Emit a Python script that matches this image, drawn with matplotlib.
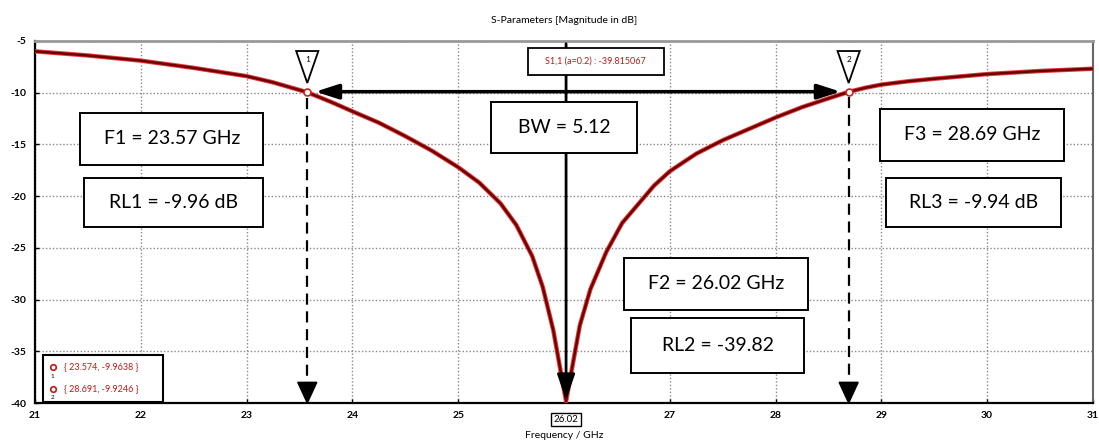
import numpy as np
import matplotlib.pyplot as plt
from matplotlib.patches import Rectangle, Polygon

plt.rcParams['font.family'] = ['Lato', 'DejaVu Sans']

# S11 magnitude (GHz, dB)
freq = [21.0, 21.5, 22.0, 22.5, 23.0, 23.25, 23.574, 23.8, 24.0, 24.25, 24.5, 24.75,
        25.0, 25.2, 25.4, 25.55, 25.7, 25.8, 25.9, 25.97, 26.02, 26.07, 26.15, 26.25,
        26.4, 26.55, 26.7, 26.85, 27.0, 27.25, 27.5, 27.75, 28.0, 28.25, 28.5, 28.691,
        28.85, 29.0, 29.25, 29.5, 30.0, 30.5, 31.0]
s11 = [-6.0, -6.4, -6.9, -7.6, -8.4, -9.0, -9.96, -10.9, -11.8, -12.9, -14.2, -15.6,
       -17.2, -18.7, -20.7, -22.8, -25.8, -28.8, -33.0, -37.0, -39.82, -37.0, -32.5, -29.0,
       -25.4, -22.6, -20.8, -19.0, -17.6, -15.9, -14.6, -13.5, -12.4, -11.4, -10.55, -9.92,
       -9.52, -9.22, -8.9, -8.65, -8.2, -7.9, -7.68]

m_freq = [23.574, 28.691]
m_val = [-9.9638, -9.9246]
f_min = 26.02
s_min = -39.815067

xticks = [21, 22, 23, 24, 25, 27, 28, 29, 30, 31]
yticks = [-5, -10, -15, -20, -25, -30, -35, -40]

fig = plt.figure(figsize=(10.99, 4.46), dpi=100)
ax = fig.add_axes([0.0318, 0.0964, 0.9627, 0.8117])
ax.set_xlim(21, 31)
ax.set_ylim(-40, -5)

ax.plot(freq, s11, color='#e23a3a', lw=3.2, solid_capstyle='round', zorder=3)
ax.plot(freq, s11, color='#6e0000', lw=1.8, zorder=4)
ax.plot(m_freq, m_val, 'o', ms=5, mfc='white', mec='#d02020', mew=1.2, zorder=6)

ax.set_xticks(xticks)
ax.set_yticks(yticks)
ax.set_xticklabels([str(t) for t in xticks], fontsize=7.5, fontweight='bold')
ax.set_yticklabels([str(t) for t in yticks], fontsize=7.5, fontweight='bold')
ax.tick_params(length=3, width=1, direction='in', pad=6)
ax.grid(True, ls=(0, (1, 1.5)), color='#888888', lw=1)
for s in ['left', 'bottom']:
    ax.spines[s].set_linewidth(1.6)
    ax.spines[s].set_color('black')
ax.spines['top'].set_color('#999999')
ax.spines['top'].set_linewidth(2)
ax.spines['right'].set_color('#666666')
ax.spines['right'].set_linewidth(1.5)

ax.set_title('S-Parameters [Magnitude in dB]', fontsize=7.5, pad=13)
ax.set_xlabel('Frequency / GHz', fontsize=7.5, labelpad=8)

# boxed x label of the minimum
ax.text(f_min, -41.6, '26.02', ha='center', va='center', fontsize=7, zorder=8,
        bbox=dict(boxstyle='square,pad=0.25', fc='white', ec='black', lw=1), clip_on=False)

# vertical line at the minimum with arrow head
ax.annotate('', xy=(f_min, -40), xytext=(f_min, -5),
            arrowprops=dict(arrowstyle='-|>,head_length=1.6,head_width=0.55', color='black', lw=2),
            zorder=5)

# bandwidth double arrow
ax.annotate('', xy=(m_freq[0] + 0.05, -9.9), xytext=(m_freq[1] - 0.05, -9.9),
            arrowprops=dict(arrowstyle='<|-|>,head_length=1.4,head_width=0.45', color='black', lw=2.5),
            zorder=5)

# dashed marker drop lines
for f, v, n in zip(m_freq, m_val, ['1', '2']):
    ax.plot([f, f], [v - 0.5, -37.6], color='black', lw=1.6, ls=(0, (5, 3)), zorder=5)
    ax.add_patch(Polygon([(f - 0.09, -38.0), (f + 0.09, -38.0), (f, -40.0)],
                         closed=True, fc='black', ec='black', zorder=5))
    ax.add_patch(Polygon([(f - 0.105, -5.97), (f + 0.105, -5.97), (f, -9.06)],
                         closed=True, fc='white', ec='black', lw=1.3, zorder=7))
    ax.text(f, -6.75, n, ha='center', va='center', fontsize=6, zorder=8)

# annotation boxes: (x0, x1, y0, y1, text)
boxes = [
    (21.426, 23.159, -16.98, -11.96, 'F1 = 23.57 GHz'),
    (21.464, 23.159, -22.97, -18.24, 'RL1 = -9.96 dB'),
    (25.309, 26.691, -15.82, -10.89, 'BW = 5.12'),
    (28.983, 30.725, -16.59, -11.57, 'F3 = 28.69 GHz'),
    (29.04, 30.70, -22.97, -18.24, 'RL3 = -9.94 dB'),
    (26.568, 28.311, -30.99, -25.97, 'F2 = 26.02 GHz'),
    (26.634, 28.273, -37.08, -31.76, 'RL2 = -39.82'),
]
for x0, x1, y0, y1, t in boxes:
    ax.add_patch(Rectangle((x0, y0), x1 - x0, y1 - y0, fc='white', ec='black', lw=1.4, zorder=9))
    ax.text((x0 + x1) / 2, (y0 + y1) / 2, t, ha='center', va='center', fontsize=14, zorder=10)

# marker value label at the top
ax.add_patch(Rectangle((25.66, -8.29), 1.287, 2.61, fc='white', ec='black', lw=1.3, zorder=9))
ax.text(26.30, -6.98, 'S1,1 (a=0.2) : %.6f' % s_min, ha='center', va='center',
        fontsize=6.5, color='#c01818', zorder=10)

# marker legend box in lower left
ax.add_patch(Rectangle((21.075, -39.9), 1.14, 4.55, fc='white', ec='black', lw=1.5, zorder=9))
for i, (f, v) in enumerate(zip(m_freq, m_val)):
    yy = -36.5 - i * 2.1
    ax.plot(21.17, yy, 'o', ms=4, mfc='white', mec='#c01818', mew=1.2, zorder=10)
    ax.text(21.165, yy - 0.9, str(i + 1), ha='center', va='center', fontsize=4.5, zorder=10)
    ax.text(21.27, yy, '{ %.3f, %.4f }' % (f, v), ha='left', va='center',
            fontsize=6.5, color='#c01818', zorder=10)

fig.savefig('out.png', dpi=100)
